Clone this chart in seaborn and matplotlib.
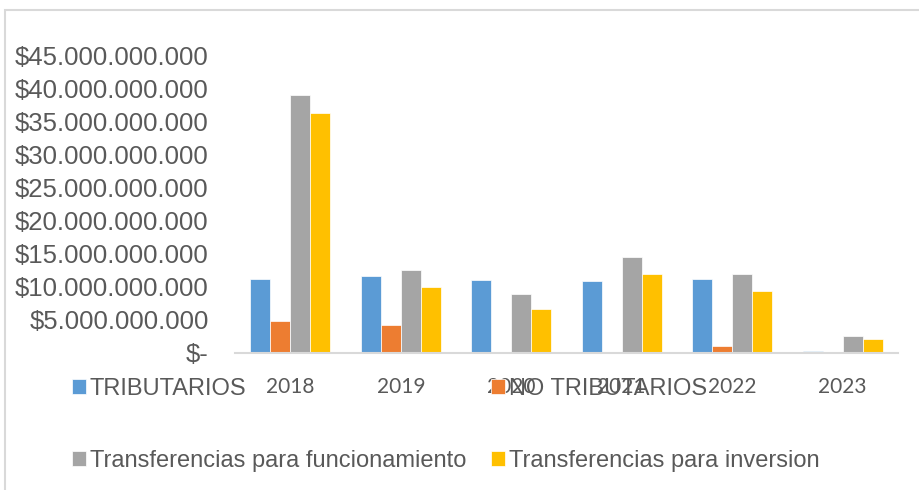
import numpy as np
import pandas as pd
import matplotlib
matplotlib.use("Agg")
import matplotlib.pyplot as plt
import matplotlib.ticker as mticker
from matplotlib.patches import Rectangle
import seaborn as sns

# datos (en pesos)
anios = ["2018", "2019", "2020", "2021", "2022", "2023"]
tributarios = [11.2e9, 11.7e9, 11.0e9, 10.8e9, 11.2e9, 0.3e9]
no_tributarios = [4.8e9, 4.2e9, 0.03e9, 0.05e9, 1.0e9, 0.15e9]
transf_funcionamiento = [39.0e9, 12.5e9, 8.9e9, 14.5e9, 11.9e9, 2.5e9]
transf_inversion = [36.3e9, 9.9e9, 6.6e9, 12.0e9, 9.4e9, 2.1e9]

conceptos = ["TRIBUTARIOS", "NO TRIBUTARIOS",
             "Transferencias para funcionamiento", "Transferencias para inversion"]
colores = ["#5B9BD5", "#ED7D31", "#A5A5A5", "#FFC000"]

df = pd.DataFrame({
    "anio": anios * 4,
    "concepto": np.repeat(conceptos, len(anios)),
    "valor": tributarios + no_tributarios + transf_funcionamiento + transf_inversion,
})

sns.set_style("white")
plt.rcParams["font.family"] = ["Liberation Sans", "DejaVu Sans"]

fig = plt.figure(figsize=(9.2, 4.9), dpi=100)
ax = fig.add_axes([235 / 920, 1 - 353 / 490, 663 / 920, 298 / 490])

sns.barplot(data=df, x="anio", y="valor", hue="concepto", hue_order=conceptos,
            palette=colores, saturation=1, width=0.72, edgecolor="white",
            linewidth=0.5, ax=ax)

handles, labels = ax.get_legend_handles_labels()
ax.get_legend().remove()

ax.set_ylim(0, 45e9)
ax.set_xlim(-0.5, 5.5)
ax.set_yticks(np.arange(0, 45e9 + 1, 5e9))


def fmt_pesos(v, pos):
    if v == 0:
        return "$-"
    return "$" + f"{v:,.0f}".replace(",", ".")


ax.yaxis.set_major_formatter(mticker.FuncFormatter(fmt_pesos))
ax.tick_params(axis="y", length=0, pad=19, labelsize=18.5, labelcolor="#595959")
ax.tick_params(axis="x", length=0, pad=17, labelsize=15, labelcolor="#595959")
for t in ax.get_xticklabels():
    t.set_fontfamily("Lato")
ax.set_xlabel("")
ax.set_ylabel("")
for s in ["top", "right", "left"]:
    ax.spines[s].set_visible(False)
ax.spines["bottom"].set_color("#D9D9D9")
ax.spines["bottom"].set_linewidth(1.5)

# leyenda (orden por columnas)
orden = [0, 2, 1, 3]
fig.legend([handles[i] for i in orden], [labels[i] for i in orden],
           loc="upper left", bbox_to_anchor=(72 / 920, 1 - 378 / 490),
           ncol=2, frameon=False, fontsize=17, labelcolor="#595959",
           handlelength=0.6, handleheight=0.6, handletextpad=0.15,
           borderpad=0, borderaxespad=0, labelspacing=2.1, columnspacing=1.05)

# marco del grafico
fig.patches.append(Rectangle((5 / 920, -0.1), 1.2, 1 - 10 / 490 + 0.1,
                             transform=fig.transFigure, fill=False,
                             edgecolor="#D9D9D9", linewidth=1.5))

plt.savefig("out.png", dpi=100)
